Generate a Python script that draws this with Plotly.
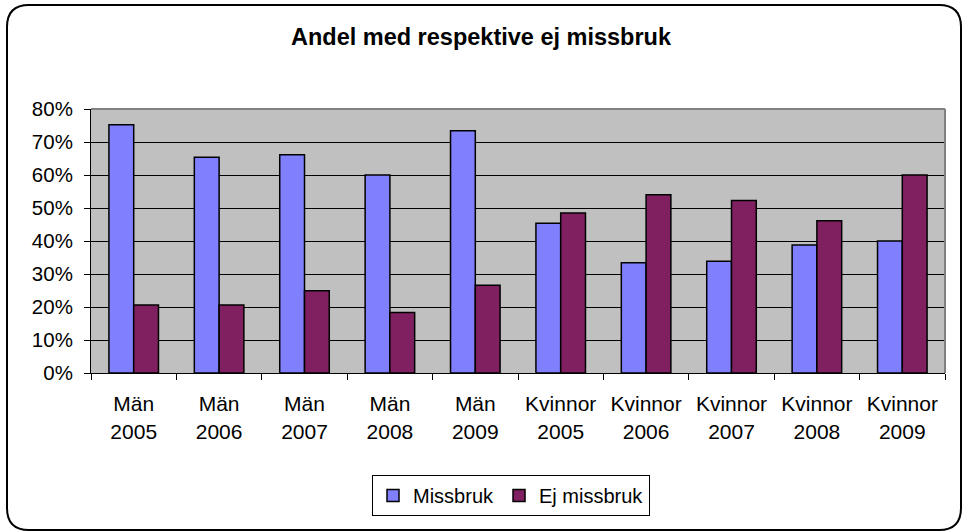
import plotly.graph_objects as go

categories = ["Män<br>2005", "Män<br>2006", "Män<br>2007", "Män<br>2008", "Män<br>2009",
              "Kvinnor<br>2005", "Kvinnor<br>2006", "Kvinnor<br>2007", "Kvinnor<br>2008", "Kvinnor<br>2009"]
missbruk = [0.752, 0.654, 0.661, 0.600, 0.734, 0.454, 0.334, 0.339, 0.388, 0.400]
ej_missbruk = [0.206, 0.206, 0.249, 0.183, 0.266, 0.485, 0.540, 0.523, 0.461, 0.600]
y_ticks = [0, 0.1, 0.2, 0.3, 0.4, 0.5, 0.6, 0.7, 0.8]
y_labels = ["0%", "10%", "20%", "30%", "40%", "50%", "60%", "70%", "80%"]

W, H = 962, 532
L, R, T, B = 91, 945, 109, 373
FONT = "Liberation Sans, Arial, sans-serif"

fig = go.Figure()
fig.add_trace(go.Bar(x=categories, y=missbruk, name="Missbruk",
                     marker=dict(color="#8080FF", line=dict(color="#000000", width=1.5))))
fig.add_trace(go.Bar(x=categories, y=ej_missbruk, name="Ej missbruk",
                     marker=dict(color="#802060", line=dict(color="#000000", width=1.5))))

def px2paper_x(px):
    return (px - L) / (R - L)

def px2paper_y(py):
    return (B - py) / (B - T)

# rounded outer border of the chart
x0, x1, y0, y1, r = 7, 961, 5, 530, 22
path = (f"M {px2paper_x(x0 + r)},{px2paper_y(y0)} "
        f"L {px2paper_x(x1 - r)},{px2paper_y(y0)} "
        f"Q {px2paper_x(x1)},{px2paper_y(y0)} {px2paper_x(x1)},{px2paper_y(y0 + r)} "
        f"L {px2paper_x(x1)},{px2paper_y(y1 - r)} "
        f"Q {px2paper_x(x1)},{px2paper_y(y1)} {px2paper_x(x1 - r)},{px2paper_y(y1)} "
        f"L {px2paper_x(x0 + r)},{px2paper_y(y1)} "
        f"Q {px2paper_x(x0)},{px2paper_y(y1)} {px2paper_x(x0)},{px2paper_y(y1 - r)} "
        f"L {px2paper_x(x0)},{px2paper_y(y0 + r)} "
        f"Q {px2paper_x(x0)},{px2paper_y(y0)} {px2paper_x(x0 + r)},{px2paper_y(y0)} Z")

fig.update_layout(
    width=W, height=H,
    margin=dict(l=L, r=W - R, t=T, b=H - B, pad=0),
    paper_bgcolor="white",
    plot_bgcolor="#C0C0C0",
    barmode="group",
    bargap=0.42,
    bargroupgap=0,
    font=dict(family=FONT, size=20, color="#000000"),
    title=dict(text="<b>Andel med respektive ej missbruk</b>", x=0.5, xanchor="center",
               y=1 - 37 / H, yanchor="middle", font=dict(family=FONT, size=23.5, color="#000000")),
    showlegend=True,
    legend=dict(orientation="h", x=px2paper_x(511), xanchor="center",
                y=px2paper_y(495.5), yanchor="middle",
                bordercolor="#000000", borderwidth=1, bgcolor="white",
                font=dict(family=FONT, size=20), itemwidth=30, traceorder="normal"),
    xaxis=dict(showline=True, linecolor="#000000", linewidth=1, ticks="outside", ticklen=6,
               tickcolor="#000000", tickson="boundaries", showgrid=False,
               ticklabelstandoff=12,
               tickfont=dict(family=FONT, size=21)),
    yaxis=dict(range=[0, 0.8], tickvals=y_ticks, ticktext=y_labels, showline=True,
               linecolor="#000000", linewidth=1, ticks="outside", ticklen=6, tickcolor="#000000",
               showgrid=True, gridcolor="#000000", gridwidth=1, zeroline=False,
               ticklabelstandoff=7,
               tickfont=dict(family=FONT, size=20.5)),
    shapes=[
        dict(type="path", xref="paper", yref="paper", path=path,
             line=dict(color="#000000", width=2), layer="below"),
        dict(type="line", xref="paper", yref="paper", x0=0, x1=1, y0=1, y1=1,
             line=dict(color="#808080", width=2)),
        dict(type="line", xref="paper", yref="paper", x0=1, x1=1, y0=0, y1=1,
             line=dict(color="#808080", width=2)),
    ],
)

fig.write_html("out.html", config={"displayModeBar": False},
               post_script="document.body.style.margin='0';")
